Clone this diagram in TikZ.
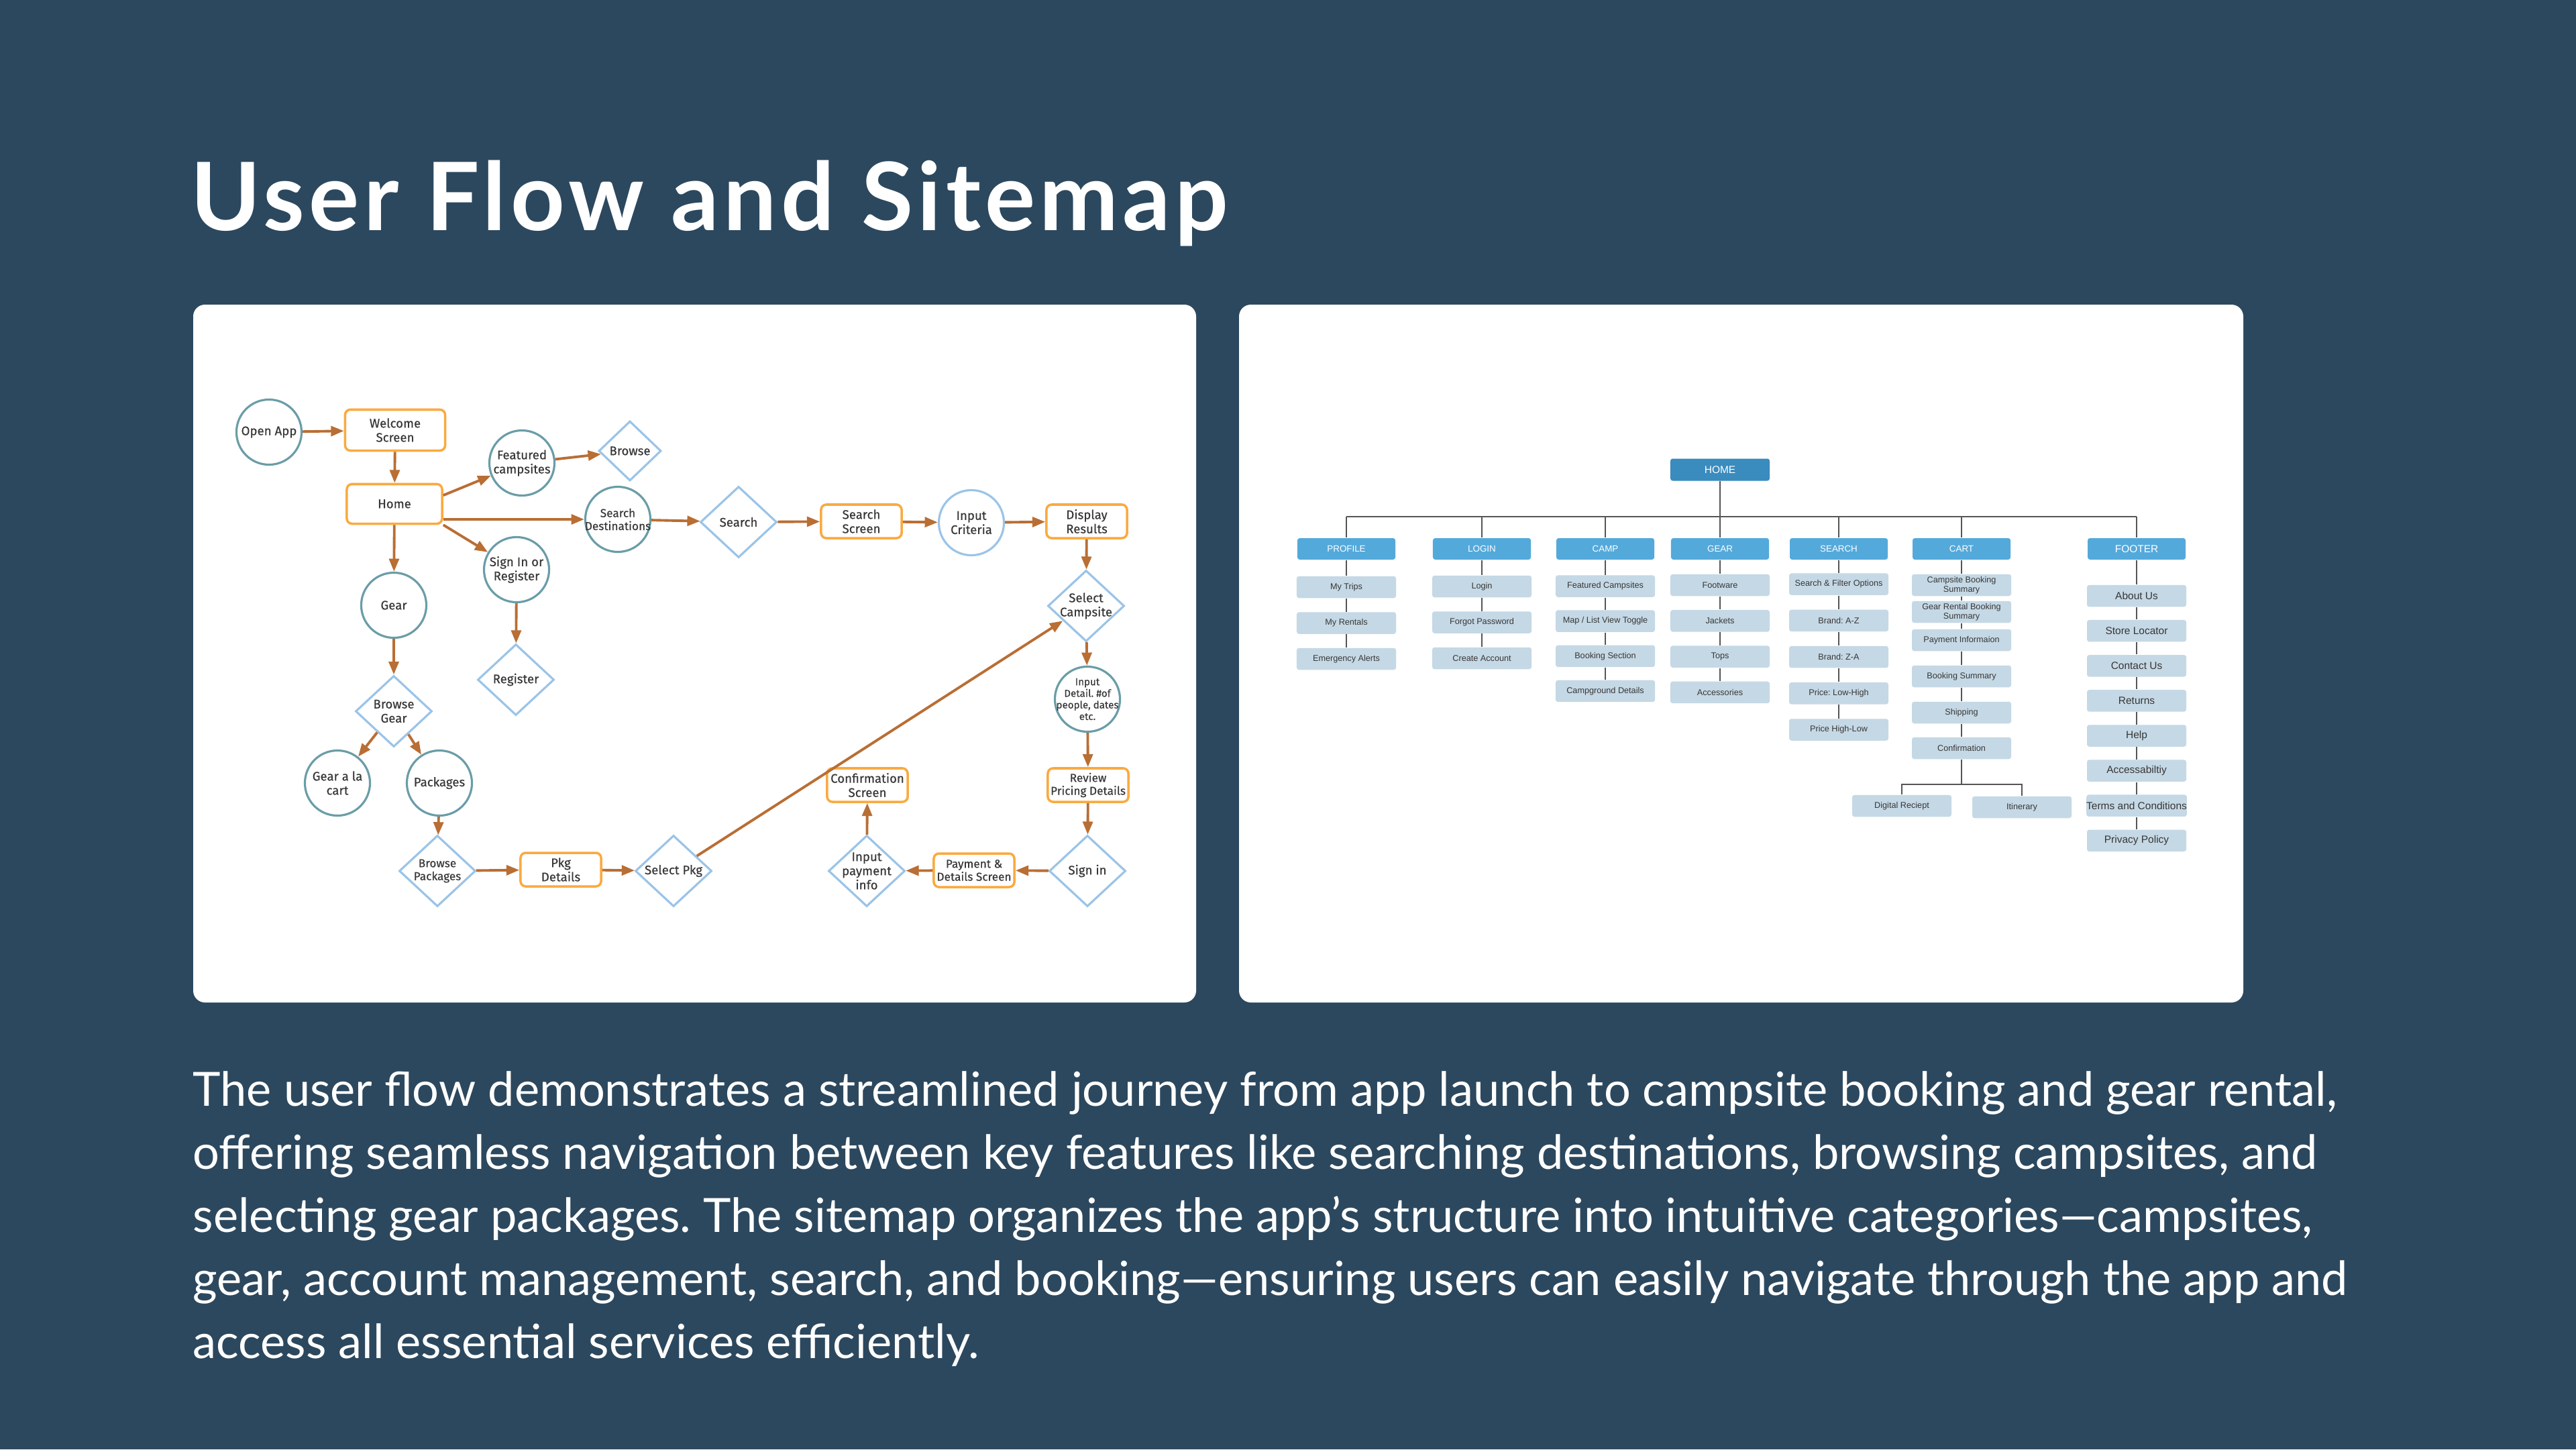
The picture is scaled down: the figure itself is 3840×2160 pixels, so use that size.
\documentclass[tikz,border=0pt]{standalone}
\usepackage{fontspec}
\setmainfont{Lato}
\newfontfamily\flowfont[FakeBold=0.4]{Fira Sans}
\newfontfamily\mapfont{Liberation Sans}
\usetikzlibrary{shapes.geometric,arrows.meta}
\definecolor{slate}{RGB}{44,72,94}
\definecolor{ink}{RGB}{55,55,55}
\definecolor{tealc}{RGB}{106,157,167}
\definecolor{skyc}{RGB}{155,196,232}
\definecolor{orangec}{RGB}{250,170,64}
\definecolor{rust}{RGB}{185,110,52}
\definecolor{homeblue}{RGB}{58,139,190}
\definecolor{catblue}{RGB}{84,169,219}
\definecolor{itemblue}{RGB}{197,216,229}
\definecolor{mapline}{RGB}{85,85,85}
\frenchspacing
\begin{document}
\begin{tikzpicture}[x=0.01cm,y=-0.01cm,
 every label/.style={font=\flowfont\fontsize{5.3}{6}\selectfont,text=ink,align=center},
 smallf/.style={font=\flowfont\fontsize{4.9}{5.5}\selectfont},
 tinyf/.style={font=\flowfont\fontsize{4.3}{4.9}\selectfont},
 flowcirc/.style 2 args={circle,draw=tealc,line width=0.9pt,minimum size=0.97cm,inner sep=0pt,fill=white,label={[#1]center:#2}},
 flowdiam/.style 2 args={diamond,draw=skyc,line width=0.9pt,minimum width=1.14cm,minimum height=1.06cm,inner sep=0pt,fill=white,label={[#1]center:#2}},
 flowbox/.style={draw=orangec,line width=1pt,rounded corners=2.2pt,minimum width=1.2cm,minimum height=0.5cm,inner sep=1pt,fill=white,align=center,text=ink,font=\flowfont\fontsize{5.3}{6}\selectfont},
 arr/.style={draw=rust,line width=1.1pt,-{Triangle[length=5.5pt,width=4.2pt]}},
 smroot/.style={fill=homeblue,rounded corners=1pt,minimum width=1.48cm,minimum height=0.33cm,inner sep=0pt,text=white,font=\mapfont\fontsize{4.4}{5}\selectfont},
 smcat/.style={fill=catblue,rounded corners=1pt,minimum width=1.46cm,minimum height=0.32cm,inner sep=0pt,text=white},
 smitem/.style={fill=itemblue,rounded corners=1pt,minimum width=1.48cm,minimum height=0.325cm,inner sep=0pt,text=ink,align=center,font=\mapfont\fontsize{3.6}{4}\selectfont},
 smline/.style={draw=mapline,line width=0.6pt}]

\fill[slate] (0,0) rectangle (3840,2160);
\fill[white,rounded corners=5pt] (288,454) rectangle (1783,1494);
\fill[white,rounded corners=5pt] (1847,454) rectangle (3344,1494);

\node[anchor=base west,inner sep=0pt,text=white,font=\bfseries\fontsize{40}{48}\selectfont\addfontfeatures{LetterSpace=4.5}] (title) at (284,343) {User Flow and Sitemap};

% user flow
\node[flowcirc={}{Open App}] (openapp) at (401,644) {};
\node[flowbox,minimum width=1.49cm,minimum height=0.61cm] (welcome) at (589,641) {Welcome\\Screen};
\node[flowbox,minimum width=1.42cm,minimum height=0.59cm] (home) at (588,751) {Home};
\node[flowcirc={}{Featured\\campsites}] (feat) at (778,690) {};
\node[flowdiam={}{Browse},minimum width=0.93cm,minimum height=0.89cm] (browse) at (939,672) {};
\node[flowcirc={smallf}{Search\\Destinations}] (srchdest) at (921,774) {};
\node[flowdiam={}{Search}] (search) at (1101,778) {};
\node[flowbox] (srchscr) at (1284,777) {Search\\Screen};
\node[flowcirc={}{Input\\Criteria},draw=skyc] (crit) at (1448,779) {};
\node[flowbox] (display) at (1620,777) {Display\\Results};
\node[flowdiam={}{Select\\Campsite}] (selcamp) at (1619,903) {};
\node[flowcirc={tinyf}{Input\\Detail. \#of\\people, dates\\etc.}] (detail) at (1621,1042) {};
\node[flowbox,smallf] (review) at (1622,1170) {Review\\Pricing Details};
\node[flowdiam={}{Sign in}] (signin) at (1621,1298) {};
\node[flowbox,smallf] (paydet) at (1452,1297) {Payment \&\\Details Screen};
\node[flowdiam={}{Input\\payment\\info}] (payinfo) at (1292,1298) {};
\node[flowbox] (confirm) at (1293,1170) {Confirmation\\Screen};
\node[flowcirc={}{Sign In or\\Register}] (signreg) at (770,849) {};
\node[flowdiam={}{Register}] (register) at (769,1013) {};
\node[flowcirc={}{Gear}] (gear) at (587,902) {};
\node[flowdiam={}{Browse\\Gear}] (bgear) at (587,1060) {};
\node[flowcirc={}{Gear a la\\cart}] (galc) at (503,1167) {};
\node[flowcirc={}{Packages}] (pkgs) at (655,1167) {};
\node[flowdiam={smallf}{Browse\\Packages}] (bpkgs) at (652,1298) {};
\node[flowbox] (pkgdet) at (836,1296) {Pkg\\Details};
\node[flowdiam={}{Select Pkg}] (selpkg) at (1004,1298) {};

\foreach \a/\b in {openapp/welcome,welcome/home,home.10/feat,feat/browse,
 home.east |- srchdest/srchdest,srchdest/search,search/srchscr,srchscr/crit,crit/display,
 display/selcamp,selcamp/detail,detail/review,review/signin,signin/paydet,paydet/payinfo,
 payinfo/confirm,home.south east/signreg,signreg/register,home/gear,gear/bgear,
 bgear/galc,bgear/pkgs,pkgs/bpkgs,bpkgs/pkgdet,pkgdet/selpkg,selpkg/selcamp}
 \draw[arr] (\a) -- (\b);

% sitemap
\node[smroot] (smhome) at (2564,700) {HOME};
\coordinate (busl) at (2007,770);
\coordinate (busr) at (3185,770);
\draw[smline] (smhome) -- (smhome |- busl) (busl) -- (busr);
\foreach \n/\x/\t/\s in {smprof/2007/PROFILE/3.8,smlogin/2209/LOGIN/3.8,smcamp/2393/CAMP/3.8,smgear/2564/GEAR/3.8,smsrch/2741/SEARCH/3.8,smcart/2924/CART/3.8,smfoot/3185/FOOTER/4.4}
{\node[smcat,font=\mapfont\fontsize{\s}{5}\selectfont] (\n0) at (\x,818) {\t};
\draw[smline] (\n0) -- (\n0 |- busl);
}

\foreach \t [count=\i] in {My Trips,My Rentals,Emergency Alerts}
 \node[smitem] (smprof\i) at (2007,{821.5+53.5*\i}) {\t};
\foreach \t [count=\i] in {Login,Forgot Password,Create Account}
 \node[smitem] (smlogin\i) at (2209,{820.5+53.5*\i}) {\t};
\foreach \t [count=\i] in {Featured Campsites,Map / List View Toggle,Booking Section,Campground Details}
 \node[smitem] (smcamp\i) at (2393,{821.5+52.1*\i}) {\t};
\foreach \t [count=\i] in {Footware,Jackets,Tops,Accessories}
 \node[smitem] (smgear\i) at (2564,{818.7+53.3*\i}) {\t};
\foreach \t [count=\i] in {Search \& Filter Options,Brand: A-Z,Brand: Z-A,Price: Low-High,Price High-Low}
 \node[smitem] (smsrch\i) at (2741,{816.5+54.2*\i}) {\t};
\foreach \t/\y [count=\i] in {{Campsite Booking\\Summary}/872,{Gear Rental Booking\\Summary}/912,Payment Informaion/954,Booking Summary/1008,Shipping/1062,Confirmation/1115}
 \node[smitem] (smcart\i) at (2924,\y) {\t};
\foreach \t [count=\i] in {About Us,Store Locator,Contact Us,Returns,Help,Accessabiltiy,Terms and Conditions,Privacy Policy}
 \node[smitem,font=\mapfont\fontsize{4.4}{5}\selectfont] (smfoot\i) at (3185,{836+52.1*\i}) {\t};
\node[smitem] (receipt) at (2835,1201) {Digital Reciept};
\node[smitem] (itin) at (3014,1203) {Itinerary};
\coordinate (fork) at (2924,1169);

\foreach \c/\m in {smprof/3,smlogin/3,smcamp/4,smgear/4,smsrch/5,smcart/6,smfoot/8}
 \foreach \i [remember=\i as \j (initially 0)] in {1,...,\m}
  \draw[smline] (\c\j) -- (\c\i);
\draw[smline] (smcart6) -- (fork) (receipt) |- (fork) -| (itin);

\node[anchor=north west,inner sep=0pt,text=white,align=left,font=\fontsize{20}{26.7}\selectfont] (blurb) at (287,1596) {The user flow demonstrates a streamlined journey from app launch to campsite booking and gear rental,\\
offering seamless navigation between key features like searching destinations, browsing campsites, and\\
selecting gear packages. The sitemap organizes the app’s structure into intuitive categories—campsites,\\
gear, account management, search, and booking—ensuring users can easily navigate through the app and\\
access all essential services efficiently.};
\end{tikzpicture}
\end{document}
